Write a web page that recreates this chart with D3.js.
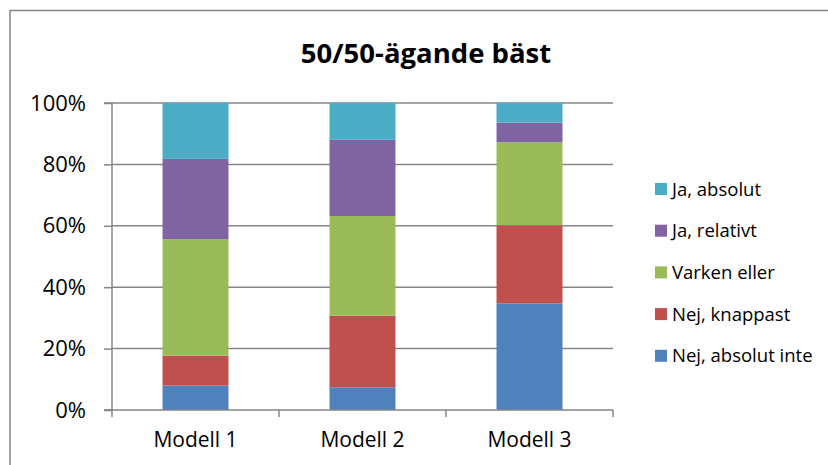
<!DOCTYPE html>
<html><head><meta charset="utf-8">
<script src="https://cdn.jsdelivr.net/npm/d3@7"></script>
<style>
body{margin:0;background:#fff;}
svg{font-family:"Open Sans", sans-serif;}
</style></head>
<body>
<svg id="c" width="828" height="465"></svg>
<script>
const categories = ["Modell 1", "Modell 2", "Modell 3"];
const seriesNames = ["Nej, absolut inte", "Nej, knappast", "Varken eller", "Ja, relativt", "Ja, absolut"];
const nejAbsolutInte = [8.0, 7.4, 34.7];
const nejKnappast = [9.7, 23.3, 25.5];
const varkenEller = [37.9, 32.5, 27.0];
const jaRelativt = [26.2, 24.8, 6.4];
const jaAbsolut = [18.2, 12.0, 6.4];
const yTicks = [0, 0.2, 0.4, 0.6, 0.8, 1.0];
const colors = ["#4F81BD", "#C0504D", "#9BBB59", "#8064A2", "#4BACC6"];
const title = "50/50-ägande bäst";

const seriesValues = [nejAbsolutInte, nejKnappast, varkenEller, jaRelativt, jaAbsolut];
const table = categories.map((c, i) => {
  const o = {cat: c};
  seriesNames.forEach((s, j) => o[s] = seriesValues[j][i] / 100);
  return o;
});

const svg = d3.select("#c");
// outer border
svg.append("rect").attr("x", 10).attr("y", 10.5).attr("width", 840).attr("height", 480)
  .attr("fill", "none").attr("stroke", "#868686").attr("stroke-width", 1.5);

const pLeft = 112, pRight = 613, pTop = 103, pBottom = 410;
const x = d3.scaleBand().domain(categories).range([pLeft, pRight]).paddingInner(0.605).paddingOuter(0.3025);
const y = d3.scaleLinear().domain([0, 1]).range([pBottom, pTop]);

// gridlines
svg.append("g").selectAll("line").data(yTicks.filter(t => t > 0)).join("line")
  .attr("x1", pLeft).attr("x2", pRight).attr("y1", d => y(d)).attr("y2", d => y(d))
  .attr("stroke", "#868686").attr("stroke-width", 1.5);

const stack = d3.stack().keys(seriesNames)(table);
svg.append("g").selectAll("g").data(stack).join("g")
  .attr("fill", (d, i) => colors[i])
  .selectAll("rect").data(d => d).join("rect")
  .attr("x", d => x(d.data.cat)).attr("width", x.bandwidth())
  .attr("y", d => y(d[1])).attr("height", d => y(d[0]) - y(d[1]));

// y axis
const yAxis = d3.axisLeft(y).tickValues(yTicks).tickFormat(d3.format(".0%")).tickSize(8).tickPadding(18);
const gy = svg.append("g").attr("transform", `translate(${pLeft},0)`).call(yAxis);
gy.select(".domain").attr("stroke", "#868686").attr("stroke-width", 1.5).attr("d", `M-8,${pTop}H0V${pBottom}H-8`);
gy.selectAll(".tick line").attr("stroke", "#868686").attr("stroke-width", 1.5);
gy.selectAll("text").attr("font-size", 22).attr("fill", "#000").attr("font-family", "'Open Sans', sans-serif");

// x axis
const bounds = d3.range(categories.length + 1).map(i => pLeft + i * (pRight - pLeft) / categories.length);
const gx = svg.append("g");
gx.append("line").attr("x1", pLeft - 8).attr("x2", pRight).attr("y1", pBottom).attr("y2", pBottom)
  .attr("stroke", "#868686").attr("stroke-width", 1.5);
gx.selectAll(".tk").data(bounds).join("line").attr("class", "tk")
  .attr("x1", d => d).attr("x2", d => d).attr("y1", pBottom).attr("y2", pBottom + 7)
  .attr("stroke", "#868686").attr("stroke-width", 1.5);
gx.selectAll("text").data(categories).join("text")
  .attr("x", d => x(d) + x.bandwidth() / 2).attr("y", 447)
  .attr("text-anchor", "middle").attr("font-size", 21).text(d => d);

// title
svg.append("text").attr("x", 426).attr("y", 63).attr("text-anchor", "middle")
  .attr("font-size", 27.5).attr("font-weight", "bold").text(title);

// legend
const legendOrder = seriesNames.map((s, i) => ({s, c: colors[i]})).reverse();
const lg = svg.append("g").selectAll("g").data(legendOrder).join("g")
  .attr("transform", (d, i) => `translate(655,${189 + i * 41.7})`);
lg.append("rect").attr("x", 0).attr("y", -6).attr("width", 12).attr("height", 12).attr("fill", d => d.c);
lg.append("text").attr("x", 17).attr("y", 6.5).attr("font-size", 18.5).text(d => d.s);
</script>
</body></html>
